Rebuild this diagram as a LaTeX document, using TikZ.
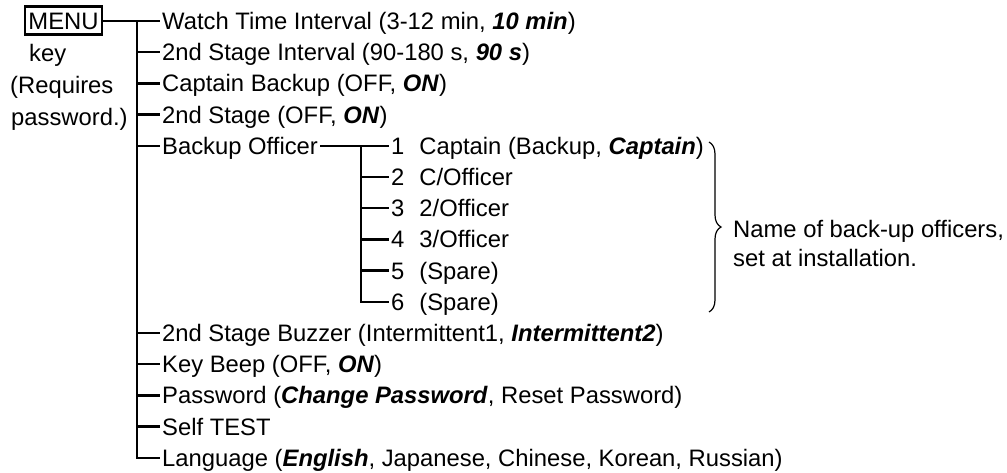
\documentclass[tikz,border=0pt]{standalone}
\usepackage{fontspec}
\setmainfont{Liberation Sans}
\usetikzlibrary{decorations.pathreplacing}
\newcommand\bi[1]{\textbf{\textit{#1}}}
\begin{document}
\begin{tikzpicture}[x=1pt,y=-1pt,
  every node/.style={font=\fontsize{23.8pt}{28pt}\selectfont, inner sep=0pt, text height=17pt, text depth=0pt},
  item/.style={anchor=west, inner xsep=2pt},
  lbl/.style={anchor=west},
  tree/.style={line width=2.4pt},
  keybox/.style={draw, line width=2.2pt, minimum width=77pt, minimum height=28pt}]
\useasboundingbox (0,0) rectangle (1007,472);
\node[keybox] (menu) at (63.5,20.5) {MENU};
\node[lbl] (k1) at (29,53) {key};
\node[lbl] (k2) at (10,85) {(Requires};
\node[lbl] (k3) at (11,117) {password.)};
% main items
\node[item] (w0) at (160,21) {Watch Time Interval (3-12 min, \bi{10 min})};
\node[item] (w1) at (160,52.2) {2nd Stage Interval (90-180 s, \bi{90 s})};
\node[item] (w2) at (160,83.4) {Captain Backup (OFF, \bi{ON})};
\node[item] (w3) at (160,114.6) {2nd Stage (OFF, \bi{ON})};
\node[item] (w4) at (160,145.8) {Backup Officer};
\node[item] (w10) at (160,333) {2nd Stage Buzzer (Intermittent1, \bi{Intermittent2})};
\node[item] (w11) at (160,364.2) {Key Beep (OFF, \bi{ON})};
\node[item] (w12) at (160,395.4) {Password (\bi{Change Password}, Reset Password)};
\node[item] (w13) at (160,426.6) {Self TEST};
\node[item] (w14) at (160,457.8) {Language (\bi{English}, Japanese, Chinese, Korean, Russian)};
% sub items
\node[item] (s1) at (389,145.8) {1\hspace{15pt}Captain (Backup, \bi{Captain})};
\node[item] (s2) at (389,177) {2\hspace{15pt}C/Officer};
\node[item] (s3) at (389,208.2) {3\hspace{15pt}2/Officer};
\node[item] (s4) at (389,239.4) {4\hspace{15pt}3/Officer};
\node[item] (s5) at (389,270.6) {5\hspace{15pt}(Spare)};
\node[item] (s6) at (389,301.8) {6\hspace{15pt}(Spare)};
% main tree
\coordinate (j) at (137,21);
\draw[tree] (menu.east |- w0.west) -- (w0.west);
\draw[tree] (j) |- (w14.west);
\foreach \n in {w1,w2,w3,w4,w10,w11,w12,w13}
  \draw[tree] (j |- \n.west) -- (\n.west);
% sub tree
\coordinate (k) at (361,145.8);
\draw[tree] (w4.east) -- (s1.west);
\draw[tree] (k) |- (s6.west);
\foreach \n in {s2,s3,s4,s5}
  \draw[tree] (k |- \n.west) -- (\n.west);
% brace
\coordinate (b1) at (709,142);
\coordinate (b2) at (709,312);
\draw[line width=1.2pt, decorate, decoration={brace, amplitude=12pt}] (b1) -- (b2);
\node[lbl] (n1) at (733,229) {Name of back-up officers,};
\node[lbl] (n2) at (733,258) {set at installation.};
\end{tikzpicture}
\end{document}
